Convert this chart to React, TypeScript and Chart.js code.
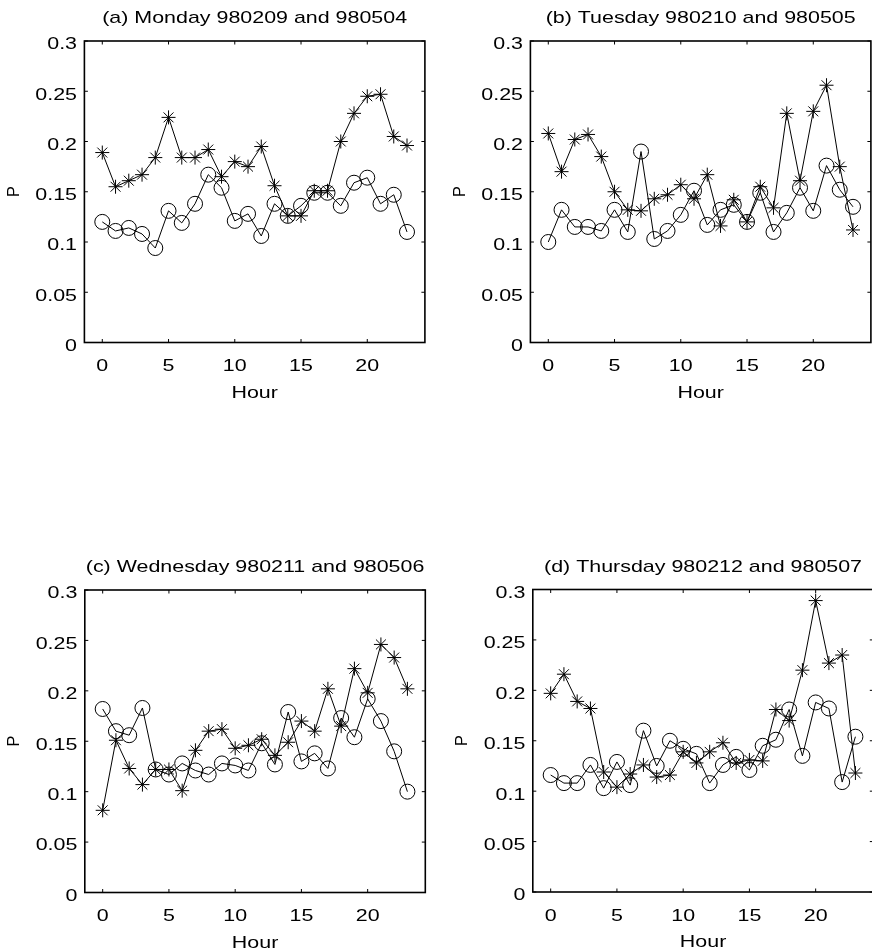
import React, { useEffect, useRef } from "react";
import { Chart, registerables } from "chart.js";

Chart.register(...registerables);

const hours = Array.from({ length: 24 }, (_, i) => i);
const xTickValues = [0, 5, 10, 15, 20];
const xTickLabels = ["0", "5", "10", "15", "20"];
const yTickValues = [0, 0.05, 0.1, 0.15, 0.2, 0.25, 0.3];
const yTickLabels = ["0", "0.05", "0.1", "0.15", "0.2", "0.25", "0.3"];
const xAxisTitle = "Hour";
const yAxisTitle = "P";

const titles = [
  "(a) Monday 980209 and 980504",
  "(b) Tuesday 980210 and 980505",
  "(c) Wednesday 980211 and 980506",
  "(d) Thursday 980212 and 980507",
];

const monStar = [0.189, 0.155, 0.161, 0.167, 0.184, 0.224, 0.184, 0.184, 0.192, 0.165, 0.18, 0.175, 0.195, 0.156, 0.126, 0.126, 0.151, 0.151, 0.2, 0.228, 0.245, 0.247, 0.205, 0.196];
const monCircle = [0.12, 0.111, 0.114, 0.108, 0.094, 0.131, 0.119, 0.138, 0.167, 0.154, 0.121, 0.128, 0.106, 0.138, 0.126, 0.136, 0.149, 0.149, 0.136, 0.159, 0.164, 0.138, 0.147, 0.11];

const tueStar = [0.208, 0.17, 0.202, 0.207, 0.185, 0.15, 0.132, 0.131, 0.143, 0.147, 0.157, 0.143, 0.167, 0.116, 0.142, 0.12, 0.155, 0.134, 0.228, 0.161, 0.23, 0.256, 0.175, 0.112];
const tueCircle = [0.1, 0.132, 0.115, 0.115, 0.111, 0.132, 0.11, 0.19, 0.103, 0.111, 0.127, 0.151, 0.117, 0.132, 0.137, 0.12, 0.149, 0.11, 0.129, 0.154, 0.131, 0.176, 0.152, 0.135];

const wedStar = [0.0815, 0.151, 0.123, 0.107, 0.122, 0.122, 0.101, 0.141, 0.16, 0.162, 0.143, 0.146, 0.152, 0.136, 0.149, 0.17, 0.16, 0.202, 0.165, 0.222, 0.198, 0.246, 0.233, 0.202];
const wedCircle = [0.182, 0.16, 0.156, 0.183, 0.122, 0.117, 0.128, 0.121, 0.117, 0.128, 0.126, 0.121, 0.148, 0.127, 0.179, 0.13, 0.138, 0.123, 0.173, 0.154, 0.192, 0.17, 0.14, 0.1];

const thuStar = [0.197, 0.216, 0.189, 0.182, 0.119, 0.104, 0.117, 0.126, 0.114, 0.116, 0.139, 0.128, 0.139, 0.148, 0.128, 0.131, 0.13, 0.181, 0.17, 0.22, 0.289, 0.227, 0.235, 0.118];
const thuCircle = [0.116, 0.108, 0.108, 0.126, 0.103, 0.129, 0.106, 0.16, 0.125, 0.15, 0.142, 0.137, 0.108, 0.126, 0.134, 0.121, 0.145, 0.151, 0.181, 0.135, 0.188, 0.182, 0.109, 0.154];

const FONT = "'Liberation Sans', Arial, Helvetica, sans-serif";
const FONT_SIZE = 17;
const H_STRETCH = 1.26;
const PLOT_W = 340.5;
const X_MIN = -1.35;
const X_MAX = 24.35;
const X_AXIS_H = 65.5;

type PanelDef = {
  title: string;
  stars: number[];
  circles: number[];
  cx: number;
  cy: number;
  left: number;
  top: number;
  h: number;
};

const panels: PanelDef[] = [
  { title: titles[0], stars: monStar, circles: monCircle, cx: 0, cy: 0, left: 84.4, top: 41, h: 301.5 },
  { title: titles[1], stars: tueStar, circles: tueCircle, cx: 446, cy: 0, left: 530.4, top: 41, h: 301.5 },
  { title: titles[2], stars: wedStar, circles: wedCircle, cx: 0, cy: 545, left: 84.8, top: 590, h: 302.5 },
  { title: titles[3], stars: thuStar, circles: thuCircle, cx: 446, cy: 545, left: 532.8, top: 589.5, h: 302.5 },
];

function wideText(ctx: CanvasRenderingContext2D, text: string, x: number, y: number, align: CanvasTextAlign, stretch = H_STRETCH, rotate = 0) {
  ctx.save();
  ctx.translate(x, y);
  if (rotate) ctx.rotate(rotate);
  ctx.scale(stretch, 1);
  ctx.textAlign = align;
  ctx.textBaseline = "alphabetic";
  ctx.fillText(text, 0, 0);
  ctx.restore();
}

function Panel({ p }: { p: PanelDef }) {
  const ref = useRef<HTMLCanvasElement | null>(null);
  const lw = p.left - p.cx;
  const tp = p.top - p.cy;
  const W = Math.ceil(lw + PLOT_W + 14);
  const H = Math.ceil(tp + p.h + X_AXIS_H);
  const rp = W - lw - PLOT_W;
  const bp = H - tp - p.h - X_AXIS_H;

  useEffect(() => {
    if (!ref.current) return;
    const boxPlugin = {
      id: "matlabBox",
      afterDraw(chart: any) {
        const { ctx, chartArea } = chart;
        const { left, right, top, bottom } = chartArea;
        const xs = chart.scales.x;
        const ys = chart.scales.y;
        ctx.save();
        ctx.strokeStyle = "#000";
        ctx.lineWidth = 1.6;
        ctx.strokeRect(left, top, right - left, bottom - top);
        ctx.lineWidth = 1;
        const L = 3.5;
        ctx.beginPath();
        xTickValues.forEach((v) => {
          const px = xs.getPixelForValue(v);
          ctx.moveTo(px, bottom);
          ctx.lineTo(px, bottom - L);
          ctx.moveTo(px, top);
          ctx.lineTo(px, top + L);
        });
        yTickValues.forEach((v) => {
          const py = ys.getPixelForValue(v);
          ctx.moveTo(left, py);
          ctx.lineTo(left + L, py);
          ctx.moveTo(right, py);
          ctx.lineTo(right - L, py);
        });
        ctx.stroke();

        ctx.fillStyle = "#000";
        ctx.font = `${FONT_SIZE}px ${FONT}`;
        const cxm = (left + right) / 2;
        wideText(ctx, p.title, cxm, top - 17.8, "center");
        xTickValues.forEach((v, i) => {
          wideText(ctx, xTickLabels[i], xs.getPixelForValue(v), bottom + 28.5, "center");
        });
        yTickValues.forEach((v, i) => {
          wideText(ctx, yTickLabels[i], left - 7.4, ys.getPixelForValue(v) + 8.4, "right");
        });
        wideText(ctx, xAxisTitle, cxm, bottom + 55, "center");
        ctx.font = `16px ${FONT}`;
        wideText(ctx, yAxisTitle, left - 65.5, (top + bottom) / 2, "center", 1.05, -Math.PI / 2);
        ctx.restore();
      },
    };

    const chart = new Chart(ref.current, {
      type: "line",
      data: {
        datasets: [
          {
            data: hours.map((h, i) => ({ x: h, y: p.stars[i] })),
            borderColor: "#000",
            borderWidth: 1,
            pointStyle: "star",
            pointRadius: 7,
            pointBorderColor: "#000",
            pointBackgroundColor: "transparent",
            pointBorderWidth: 1,
            tension: 0,
          },
          {
            data: hours.map((h, i) => ({ x: h, y: p.circles[i] })),
            borderColor: "#000",
            borderWidth: 1,
            pointStyle: "circle",
            pointRadius: 7.5,
            pointBorderColor: "#000",
            pointBackgroundColor: "transparent",
            pointBorderWidth: 1,
            tension: 0,
          },
        ],
      },
      options: {
        animation: false,
        responsive: false,
        maintainAspectRatio: false,
        events: [],
        layout: { padding: { left: 0, top: tp, right: rp, bottom: bp } },
        plugins: { legend: { display: false }, tooltip: { enabled: false }, title: { display: false } },
        scales: {
          x: {
            type: "linear",
            min: X_MIN,
            max: X_MAX,
            grid: { display: false, drawTicks: false },
            border: { display: false },
            afterBuildTicks: (s: any) => {
              s.ticks = xTickValues.map((v) => ({ value: v }));
            },
            afterFit: (s: any) => {
              s.height = X_AXIS_H;
            },
            ticks: { display: false },
            title: { display: false },
          },
          y: {
            type: "linear",
            min: 0,
            max: 0.3,
            grid: { display: false, drawTicks: false },
            border: { display: false },
            afterBuildTicks: (s: any) => {
              s.ticks = yTickValues.map((v) => ({ value: v }));
            },
            afterFit: (s: any) => {
              s.width = lw;
            },
            ticks: { display: false },
            title: { display: false },
          },
        },
      } as any,
      plugins: [boxPlugin],
    });
    return () => chart.destroy();
  }, []);

  return (
    <canvas
      ref={ref}
      width={W}
      height={H}
      style={{ position: "absolute", left: p.cx, top: p.cy, width: W, height: H }}
    />
  );
}

export default function App() {
  return (
    <div
      style={{
        position: "absolute",
        left: 0,
        top: 0,
        width: 872,
        height: 952,
        overflow: "hidden",
        background: "#fff",
      }}
    >
      {panels.map((p, i) => (
        <Panel key={i} p={p} />
      ))}
    </div>
  );
}
